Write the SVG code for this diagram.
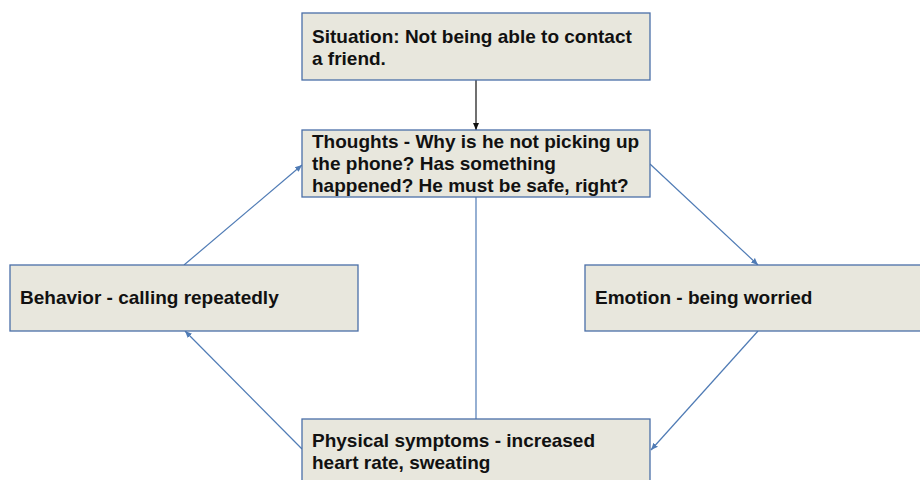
<svg xmlns="http://www.w3.org/2000/svg" width="920" height="480" viewBox="0 0 920 480">
<style>
.box{fill:#e8e7dd;stroke:#4a6fa8;stroke-width:1.3}
.t{font-family:"Liberation Sans",Arial,sans-serif;font-weight:bold;font-size:19px;fill:#111}
.c{fill:none;stroke:#4f7bb5;stroke-width:1.2}
</style>
<defs>
<marker id="ab" markerWidth="8" markerHeight="8" refX="7" refY="4" orient="auto" markerUnits="userSpaceOnUse"><path d="M0,1 L7,4 L0,7 Z" fill="#4f7bb5"/></marker>
<marker id="ak" markerWidth="8" markerHeight="8" refX="7" refY="4" orient="auto" markerUnits="userSpaceOnUse"><path d="M0,1 L7,4 L0,7 Z" fill="#111"/></marker>
</defs>
<rect width="920" height="480" fill="#fff"/>
<g id="connectors">
<line x1="476" y1="80" x2="476" y2="130" stroke="#111" stroke-width="1.2" marker-end="url(#ak)"/>
<line class="c" x1="476" y1="197" x2="476" y2="419"/>
<line class="c" x1="184" y1="265" x2="302" y2="165" marker-end="url(#ab)"/>
<line class="c" x1="650" y1="164" x2="758" y2="265" marker-end="url(#ab)"/>
<line class="c" x1="758" y1="331" x2="651" y2="450" marker-end="url(#ab)"/>
<line class="c" x1="302" y1="449" x2="185" y2="331" marker-end="url(#ab)"/>
</g>
<g id="situation">
<rect class="box" x="302" y="13" width="348" height="67"/>
<text class="t" x="312" y="43">Situation: Not being able to contact</text>
<text class="t" x="312" y="65">a friend.</text>
</g>
<g id="thoughts">
<rect class="box" x="302" y="130" width="348" height="67"/>
<text class="t" x="312" y="148">Thoughts - Why is he not picking up</text>
<text class="t" x="312" y="170">the phone? Has something</text>
<text class="t" x="312" y="192">happened? He must be safe, right?</text>
</g>
<g id="behavior">
<rect class="box" x="10" y="265" width="348" height="66"/>
<text class="t" x="20" y="304">Behavior - calling repeatedly</text>
</g>
<g id="emotion">
<rect class="box" x="585" y="265" width="348" height="66"/>
<text class="t" x="595" y="304">Emotion - being worried</text>
</g>
<g id="physical">
<rect class="box" x="302" y="419" width="348" height="80"/>
<text class="t" x="312" y="447">Physical symptoms - increased</text>
<text class="t" x="312" y="469">heart rate, sweating</text>
</g>
</svg>
